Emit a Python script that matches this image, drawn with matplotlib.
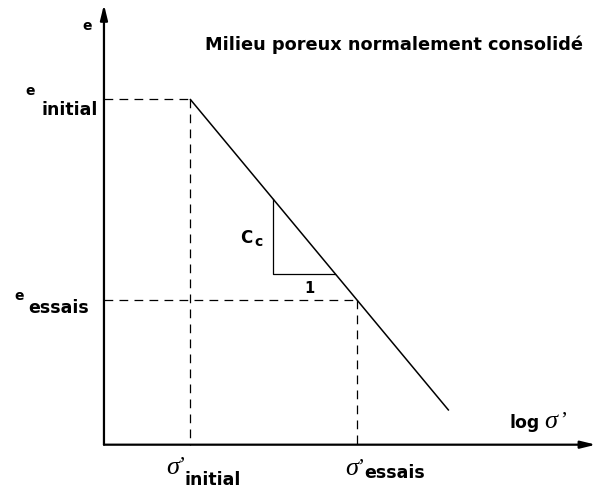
import matplotlib
matplotlib.use("Agg")
import matplotlib.pyplot as plt

# schematic e - log(sigma') curve for a normally consolidated soil
log_sigma = [1.0, 3.0]          # sigma'_initial, sigma'_essais
e_values = [3.0, 1.0]           # e_initial, e_essais
cc = 1.0                        # compression index (slope)
line_end = 4.10                 # where the virgin line stops
tri_x = [2.0, 2.74]             # slope triangle, left/right
origin = (-0.03, -0.44)
x_tip, y_tip = 5.86, 3.94

title = "Milieu poreux normalement consolidé"
sub_e = ["initial", "essais"]

def virgin(x):
    return e_values[0] - cc * (x - log_sigma[0])

fig = plt.figure(figsize=(5.96, 4.89), dpi=100)
ax = fig.add_axes([0, 0, 1, 1])
ax.set_xlim(-1.275, 5.862)
ax.set_ylim(-0.871, 3.995)
ax.axis("off")

sans = dict(family="DejaVu Sans", fontweight="bold")
serif = dict(family="Liberation Serif", style="italic")

# axes with arrow heads
arrow = dict(arrowstyle="-|>,head_length=0.9,head_width=0.22", lw=1.6,
             color="black", shrinkA=0, shrinkB=0)
ax.annotate("", xy=(x_tip, origin[1]), xytext=origin, arrowprops=arrow)
ax.annotate("", xy=(origin[0], y_tip), xytext=origin, arrowprops=arrow)

# virgin compression line
ax.plot([log_sigma[0], line_end], [virgin(log_sigma[0]), virgin(line_end)],
        color="black", lw=1.1, solid_capstyle="butt")

# dashed guides
for xs, es in zip(log_sigma, e_values):
    ax.plot([origin[0], xs], [es, es], color="black", lw=0.9,
            dashes=(7, 5))
    ax.plot([xs, xs], [es, origin[1]], color="black", lw=0.9,
            dashes=(7, 5))

# slope triangle
ax.plot([tri_x[0], tri_x[0], tri_x[1]],
        [virgin(tri_x[0]), virgin(tri_x[1]), virgin(tri_x[1])],
        color="black", lw=0.9)
ax.text(tri_x[0] - 0.25, 1.58, "C", ha="right", va="baseline",
        fontsize=12, **sans)
ax.text(tri_x[0] - 0.23, 1.55, "c", ha="left", va="baseline",
        fontsize=10, **sans)
ax.text((tri_x[0] + tri_x[1]) / 2, 1.08, "1", ha="left", va="baseline",
        fontsize=10.5, **sans)

# axis labels
ax.text(-0.17, 3.70, "e", ha="right", va="baseline", fontsize=10, **sans)
ax.text(4.83, -0.264, "log", ha="left", va="baseline", fontsize=12.5, **sans)
ax.text(5.24, -0.264, "σ", ha="left", va="baseline", fontsize=19, **serif)
ax.text(5.43, -0.24, "’", ha="left", va="baseline", fontsize=15,
        family="Liberation Serif")

ax.text(1.18, 3.497, title, ha="left", va="baseline", fontsize=12.8, **sans)

# e tick labels
e_sup = [(-0.86, 3.05), (-1.10, 1.01)]
e_sub = [(-0.78, 2.85), (-0.94, 0.88)]
for sup, sub, text in zip(e_sup, e_sub, sub_e):
    ax.text(sup[0], sup[1], "e", ha="left" if text == "essais" else "right",
            va="baseline", fontsize=10, **sans)
    ax.text(sub[0], sub[1], text, ha="left", va="baseline", fontsize=12.5,
            **sans)

# sigma tick labels
s_sym = [(0.72, -0.72), (2.86, -0.735)]
s_sub = [(0.94, -0.83), (3.09, -0.76)]
for sym, sub, text in zip(s_sym, s_sub, sub_e):
    ax.text(sym[0], sym[1], "σ", ha="left", va="baseline", fontsize=19,
            **serif)
    ax.text(sym[0] + 0.14, sym[1] + 0.03, "’", ha="left", va="baseline",
            fontsize=15, family="Liberation Serif")
    ax.text(sub[0], sub[1], text, ha="left", va="baseline", fontsize=12.5,
            **sans)

fig.savefig("out.png", dpi=100)
